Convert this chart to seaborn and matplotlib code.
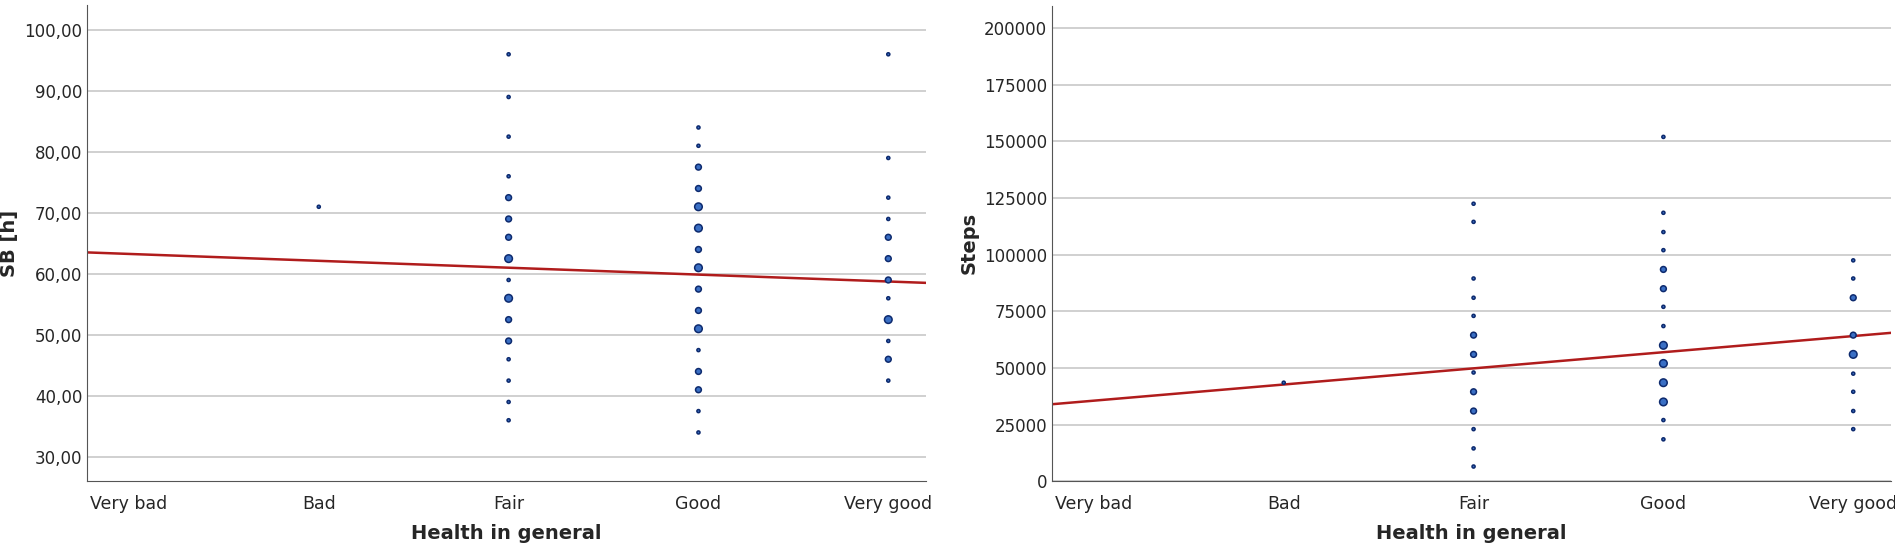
import numpy as np
import pandas as pd
import matplotlib.pyplot as plt
import seaborn as sns

categories = ["Very bad", "Bad", "Fair", "Good", "Very good"]

# left panel: SB [h] binned points (category index, value, count-ish weight)
sb_cat = [2]*1 + [3]*16 + [4]*16 + [5]*12
sb_val = [71,
          96, 89, 82.5, 76, 72.5, 69, 66, 62.5, 59, 56, 52.5, 49, 46, 42.5, 39, 36,
          84, 81, 77.5, 74, 71, 67.5, 64, 61, 57.5, 54, 51, 47.5, 44, 41, 37.5, 34,
          96, 79, 72.5, 69, 66, 62.5, 59, 56, 52.5, 49, 46, 42.5]
sb_n = [1,
        1, 1, 1, 1, 2, 2, 2, 3, 1, 3, 2, 2, 1, 1, 1, 1,
        1, 1, 2, 2, 3, 3, 2, 3, 2, 2, 3, 1, 2, 2, 1, 1,
        1, 1, 1, 1, 2, 2, 2, 1, 3, 1, 2, 1]
sb_fit = (64.4, -1.13)

# right panel: Steps
st_cat = [2]*1 + [3]*13 + [4]*14 + [5]*9
st_val = [43500,
          122500, 114500, 89500, 81000, 73000, 64500, 56000, 48000, 39500, 31000, 23000, 14500, 6500,
          152000, 118500, 110000, 102000, 93500, 85000, 77000, 68500, 60000, 52000, 43500, 35000, 27000, 18500,
          97500, 89500, 81000, 64500, 56000, 47500, 39500, 31000, 23000]
st_n = [1,
        1, 1, 1, 1, 1, 2, 2, 1, 2, 2, 1, 1, 1,
        1, 1, 1, 1, 2, 2, 1, 1, 3, 3, 3, 3, 1, 1,
        1, 1, 2, 2, 3, 1, 1, 1, 1]
st_fit = (28440, 7130)

sns.set_style("white")
fig, axes = plt.subplots(1, 2, figsize=(18.95, 5.5), dpi=100)

def panel(ax, cat, val, n, fit, ylabel, ylim, ticks, fmt):
    df = pd.DataFrame({"x": cat, "y": val, "n": n})
    for t in ticks:
        ax.axhline(t, color="#c8c8c8", lw=1.2, zorder=0)
    sns.scatterplot(data=df, x="x", y="y", size="n", sizes=(5, 30),
                    color="#3a6fc4", edgecolor="#0d2a6e", linewidth=1.1,
                    legend=False, ax=ax, zorder=3)
    xs = np.array([0.78, 5.2])
    ax.plot(xs, fit[0] + fit[1] * xs, color="#b01c1c", lw=1.8, zorder=2)
    ax.set_xlim(0.78, 5.2)
    ax.set_ylim(*ylim)
    ax.set_xticks(range(1, 6))
    ax.set_xticklabels(categories, fontsize=12.5)
    ax.set_yticks(ticks)
    ax.set_yticklabels([fmt(t) for t in ticks], fontsize=12)
    ax.tick_params(axis="x", pad=10)
    ax.set_xlabel("Health in general", fontsize=14, fontweight="bold", labelpad=8)
    ax.set_ylabel(ylabel, fontsize=14, fontweight="bold")
    ax.tick_params(length=0)
    for s in ["top", "right"]:
        ax.spines[s].set_visible(False)
    for s in ["left", "bottom"]:
        ax.spines[s].set_color("#555555")

panel(axes[0], sb_cat, sb_val, sb_n, sb_fit, "SB [h]", (26, 104),
      list(range(30, 101, 10)), lambda t: f"{t:.2f}".replace(".", ","))
panel(axes[1], st_cat, st_val, st_n, st_fit, "Steps", (0, 210000),
      list(range(0, 200001, 25000)), lambda t: str(t))

plt.subplots_adjust(left=0.046, right=0.998, bottom=0.125, top=0.99, wspace=0.15)
plt.savefig("out.png", dpi=100)
